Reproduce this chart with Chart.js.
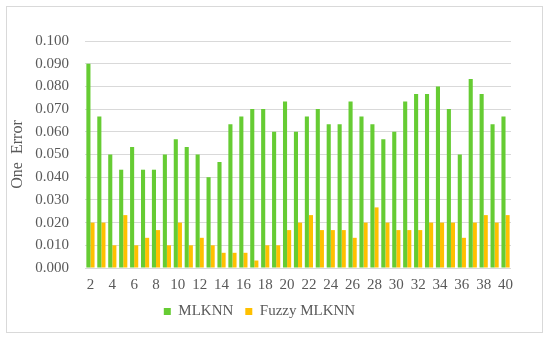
<!DOCTYPE html>
<html>
<head>
<meta charset="utf-8">
<script src="https://cdn.jsdelivr.net/npm/chart.js@4/dist/chart.umd.min.js"></script>
<style>
  html, body { margin: 0; padding: 0; background: #fff; }
  #wrap { width: 550px; height: 339px; position: relative; }
</style>
</head>
<body>
<div id="wrap"><canvas id="myChart" width="550" height="339"></canvas></div>
<script>
// categories 2..40
var labels = ['2','3','4','5','6','7','8','9','10','11','12','13','14','15','16','17','18','19','20','21',
  '22','23','24','25','26','27','28','29','30','31','32','33','34','35','36','37','38','39','40'];

var mlknn = [0.0900, 0.0667, 0.0500, 0.0433, 0.0533, 0.0433, 0.0433, 0.0500, 0.0567, 0.0533,
  0.0500, 0.0400, 0.0467, 0.0633, 0.0667, 0.0700, 0.0700, 0.0600, 0.0733, 0.0600,
  0.0667, 0.0700, 0.0633, 0.0633, 0.0733, 0.0667, 0.0633, 0.0567, 0.0600, 0.0733,
  0.0767, 0.0767, 0.0800, 0.0700, 0.0500, 0.0833, 0.0767, 0.0633, 0.0667];

var fuzzyMlknn = [0.0200, 0.0200, 0.0100, 0.0233, 0.0100, 0.0133, 0.0167, 0.0100, 0.0200, 0.0100,
  0.0133, 0.0100, 0.0067, 0.0067, 0.0067, 0.0033, 0.0100, 0.0100, 0.0167, 0.0200,
  0.0233, 0.0167, 0.0167, 0.0167, 0.0133, 0.0200, 0.0267, 0.0200, 0.0167, 0.0167,
  0.0167, 0.0200, 0.0200, 0.0200, 0.0133, 0.0200, 0.0233, 0.0200, 0.0233];

var yMin = 0, yMax = 0.1, yStep = 0.01;

var textColor = '#595959';
var serif = "'Liberation Serif', 'DejaVu Serif', serif";

// light frame around the whole chart
var frame = {
  id: 'frame',
  beforeDraw: function (chart) {
    var c = chart.ctx;
    c.save();
    c.strokeStyle = '#d9d9d9';
    c.lineWidth = 1;
    c.strokeRect(6.5, 6.5, 536, 326);
    c.restore();
  }
};

var ctx = document.getElementById('myChart').getContext('2d');
var myChart = new Chart(ctx, {
  type: 'bar',
  data: {
    labels: labels,
    datasets: [
      { label: 'MLKNN', data: mlknn, backgroundColor: '#66cc33' },
      { label: 'Fuzzy MLKNN', data: fuzzyMlknn, backgroundColor: '#ffc000' }
    ]
  },
  options: {
    responsive: false,
    animation: false,
    categoryPercentage: 0.75,
    barPercentage: 1.0,
    layout: { padding: { left: 8, right: 39, top: 41, bottom: 10 } },
    plugins: {
      legend: {
        position: 'bottom',
        labels: {
          boxWidth: 7, boxHeight: 7, color: textColor,
          font: { family: serif, size: 15 }, padding: 12
        }
      },
      tooltip: { enabled: false }
    },
    scales: {
      x: {
        grid: { display: false },
        border: { display: false },
        ticks: {
          autoSkip: false, maxRotation: 0, color: textColor, padding: 0,
          font: { family: serif, size: 15 },
          callback: function (v, i) { return i % 2 === 0 ? this.getLabelForValue(v) : ''; }
        },
        afterFit: function (scale) { scale.height -= 2; }
      },
      y: {
        min: yMin, max: yMax,
        border: { display: false },
        grid: { color: '#d9d9d9', drawTicks: false },
        ticks: {
          stepSize: yStep, color: textColor, padding: 16,
          font: { family: serif, size: 15 },
          callback: function (v) { return v.toFixed(3); }
        },
        title: {
          display: true, text: 'One  Error', color: textColor,
          font: { family: serif, size: 16 }, padding: { top: 0, bottom: 4 }
        },
        afterFit: function (scale) { scale.width = 77; }
      }
    }
  },
  plugins: [frame]
});
</script>
</body>
</html>
